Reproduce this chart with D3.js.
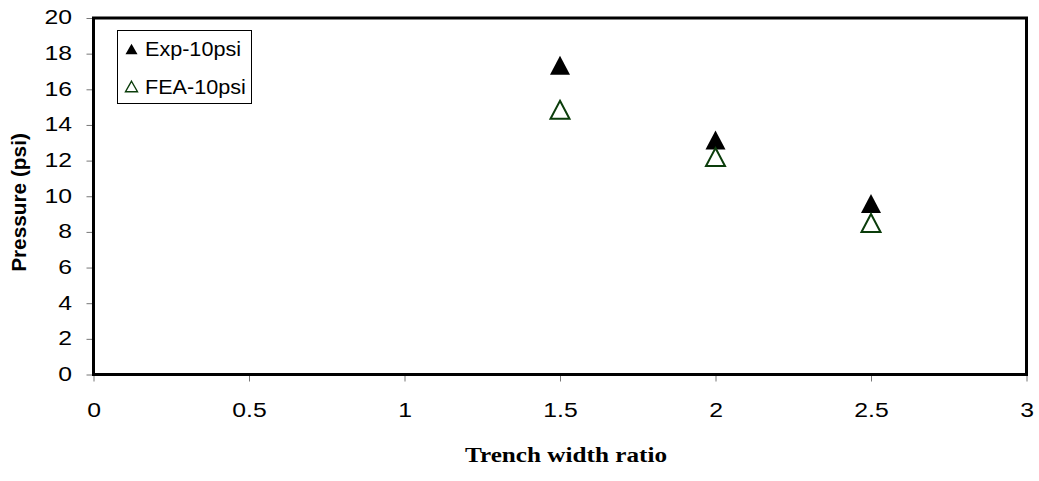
<!DOCTYPE html>
<html>
<head>
<meta charset="utf-8">
<script src="https://cdn.jsdelivr.net/npm/d3@7"></script>
<style>
  html, body { margin: 0; padding: 0; background: #fff; }
  svg { display: block; }
</style>
</head>
<body>
<svg id="chart" width="1039" height="481"></svg>
<script>
// Trench width ratio vs. pressure, experiment and FEA at 10 psi
const widthRatio = [1.5, 2, 2.5];
const expPressure = [17.35, 13.15, 9.6];
const feaPressure = [14.85, 12.2, 8.5];
const xTicks = [0, 0.5, 1, 1.5, 2, 2.5, 3];
const yTicks = [0, 2, 4, 6, 8, 10, 12, 14, 16, 18, 20];
const seriesNames = ["Exp-10psi", "FEA-10psi"];

const svg = d3.select("#chart");
const plotLeft = 93.5, plotRight = 1026.5, plotTop = 18, plotBottom = 374.5;
const sansFont = "Arial, 'Liberation Sans', sans-serif";
const wide = 1.27; // horizontal stretch of the axis lettering

const x = d3.scaleLinear().domain([0, 3]).range([plotLeft, plotRight]);
const y = d3.scaleLinear().domain([0, 20]).range([plotBottom, plotTop]);

// Axes with outward ticks
const yAxis = d3.axisLeft(y).tickValues(yTicks).tickSize(7).tickFormat(d3.format("d"));
const xAxis = d3.axisBottom(x).tickValues(xTicks).tickSize(7).tickFormat(d => String(d));

const gy = svg.append("g").attr("transform", `translate(${plotLeft},0)`).call(yAxis);
const gx = svg.append("g").attr("transform", `translate(0,${plotBottom})`).call(xAxis);
[gy, gx].forEach(g => {
  g.select(".domain").remove();
  g.selectAll(".tick line").attr("stroke", "#777").attr("stroke-width", 1);
  g.selectAll(".tick text")
    .attr("fill", "#000")
    .style("font-family", sansFont)
    .style("font-size", "19.5px");
});
gy.selectAll(".tick text")
  .attr("x", 0).attr("dy", "0.3em")
  .attr("transform", `translate(-21.5,0) scale(${wide},1)`);
gx.selectAll(".tick text")
  .attr("y", 0).attr("dy", "0.35em")
  .attr("transform", `translate(0,36) scale(${wide},1)`);

// Plot frame
svg.append("rect")
  .attr("x", plotLeft).attr("y", plotTop)
  .attr("width", plotRight - plotLeft).attr("height", plotBottom - plotTop)
  .attr("fill", "none").attr("stroke", "#000").attr("stroke-width", 3);

// Triangle marker path centred on (0,0)
function tri(w, h) {
  return `M0,${-h / 2} L${w / 2},${h / 2} L${-w / 2},${h / 2} Z`;
}

const plot = svg.append("g");

plot.selectAll("path.exp")
  .data(widthRatio.map((r, i) => ({ r, p: expPressure[i] })))
  .join("path")
  .attr("class", "exp")
  .attr("d", tri(20, 19))
  .attr("transform", d => `translate(${x(d.r)},${y(d.p)})`)
  .attr("fill", "#000");

plot.selectAll("path.fea")
  .data(widthRatio.map((r, i) => ({ r, p: feaPressure[i] })))
  .join("path")
  .attr("class", "fea")
  .attr("d", tri(19, 18))
  .attr("transform", d => `translate(${x(d.r)},${y(d.p)})`)
  .attr("fill", "none")
  .attr("stroke", "#0b3d0b")
  .attr("stroke-width", 2);

// Legend
const legend = svg.append("g");
legend.append("rect")
  .attr("x", 117.5).attr("y", 30.5).attr("width", 134).attr("height", 73)
  .attr("fill", "#fff").attr("stroke", "#000").attr("stroke-width", 1);

const legendRows = [
  { name: seriesNames[0], fill: "#000", stroke: "none", cy: 49 },
  { name: seriesNames[1], fill: "none", stroke: "#0b3d0b", cy: 86.5 }
];
legendRows.forEach(row => {
  legend.append("path")
    .attr("d", tri(12, 10.5))
    .attr("transform", `translate(131.5,${row.cy})`)
    .attr("fill", row.fill)
    .attr("stroke", row.stroke)
    .attr("stroke-width", 1.4);
  legend.append("text")
    .attr("transform", `translate(145,${row.cy}) scale(1.08,1)`)
    .attr("dy", "0.35em")
    .style("font-family", sansFont)
    .style("font-size", "20px")
    .text(row.name);
});

// Axis titles
svg.append("text")
  .attr("transform", `translate(25.5,202.5) rotate(-90)`)
  .attr("text-anchor", "middle")
  .style("font-family", sansFont)
  .style("font-size", "20.8px")
  .style("font-weight", "bold")
  .text("Pressure (psi)");

svg.append("text")
  .attr("transform", `translate(566,462) scale(1.26,1)`)
  .attr("text-anchor", "middle")
  .style("font-family", "'Times New Roman', 'Liberation Serif', serif")
  .style("font-size", "20px")
  .style("font-weight", "bold")
  .text("Trench width ratio");
</script>
</body>
</html>
